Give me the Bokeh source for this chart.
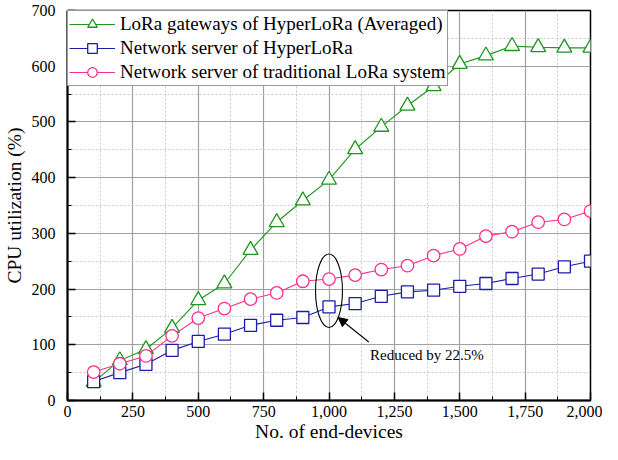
from bokeh.plotting import figure
from bokeh.models import Range1d, FixedTicker, NumeralTickFormatter, Arrow, NormalHead, Label
from bokeh.embed import file_html
from bokeh.resources import INLINE

devices = [100, 200, 300, 400, 500, 600, 700, 800, 900, 1000,
           1100, 1200, 1300, 1400, 1500, 1600, 1700, 1800, 1900, 2000]
gateways_hyperlora = [33, 72, 92, 130, 180, 210, 270, 320, 359, 396,
                      451, 491, 529, 564, 604, 619, 636, 634, 633, 633]
ns_hyperlora = [34, 50, 65, 90, 106, 119, 135, 144, 149, 168,
                174, 187, 195, 198, 205, 210, 219, 227, 240, 250]
ns_traditional = [51, 66, 80, 116, 148, 165, 182, 193, 214, 218,
                  225, 235, 242, 260, 272, 295, 303, 320, 325, 340]

x_ticks = [0, 250, 500, 750, 1000, 1250, 1500, 1750, 2000]
y_ticks = [0, 100, 200, 300, 400, 500, 600, 700]

FONT = "Liberation Serif"
GREEN = "#1e961e"
BLUE = "#1c1caa"
PINK = "#ff2e8c"

p = figure(width=602, height=444, output_backend="svg", toolbar_location=None,
           x_range=Range1d(0, 2000), y_range=Range1d(0, 700),
           min_border_left=59, min_border_right=12, min_border_top=10, min_border_bottom=0)

p.outline_line_color = "black"
p.outline_line_width = 1.5

for ax in (p.xaxis[0], p.yaxis[0]):
    ax.axis_line_color = "black"
    ax.axis_line_width = 2
    ax.major_tick_in = 8
    ax.major_tick_out = 0
    ax.minor_tick_in = 4
    ax.minor_tick_out = 0
    ax.major_tick_line_color = "black"
    ax.minor_tick_line_color = "black"
    ax.major_tick_line_width = 1.5
    ax.major_label_text_font = FONT
    ax.major_label_text_font_size = "16px"
    ax.major_label_text_color = "black"
    ax.axis_label_text_font = FONT
    ax.axis_label_text_font_size = "19.5px"
    ax.axis_label_text_font_style = "normal"
    ax.axis_label_text_color = "black"

p.xaxis.ticker = FixedTicker(ticks=x_ticks, minor_ticks=[125 + 250 * i for i in range(8)])
p.yaxis.ticker = FixedTicker(ticks=y_ticks, minor_ticks=[50 + 100 * i for i in range(7)])
p.xaxis.formatter = NumeralTickFormatter(format="0,0")
p.xaxis.axis_label = "No. of end-devices"
p.yaxis.axis_label = "CPU utilization (%)"
p.xaxis.major_label_standoff = 5
p.xaxis.axis_label_standoff = 1
p.yaxis.major_label_standoff = 12
p.yaxis.axis_label_standoff = 4

for g in (p.xgrid[0], p.ygrid[0]):
    g.grid_line_color = "#a0a0a0"
    g.grid_line_width = 1.2
    g.minor_grid_line_color = "#c8c8c8"
    g.minor_grid_line_dash = "2 2"
    g.minor_grid_line_width = 1

series = [
    (gateways_hyperlora, GREEN, "triangle", 15, "LoRa gateways of HyperLoRa (Averaged)"),
    (ns_hyperlora, BLUE, "square", 12, "Network server of HyperLoRa"),
    (ns_traditional, PINK, "circle", 12.5, "Network server of traditional LoRa system"),
]
for ys, col, mk, sz, lab in series:
    p.line(devices, ys, line_color=col, line_width=1.1, legend_label=lab)
    p.scatter(devices, ys, marker=mk, size=sz, line_color=col, line_width=1.3,
              fill_color="white", legend_label=lab)

# annotation
p.ellipse(x=[1000], y=[197], width=[103], height=[132], fill_color=None,
          line_color="black", line_width=1.1)
p.add_layout(Arrow(end=NormalHead(size=9, fill_color="black", line_color="black"),
                   x_start=1152, y_start=105, x_end=1035, y_end=149,
                   line_color="black", line_width=1.1))
p.add_layout(Label(x=1157, y=81, text="Reduced by 22.5%", text_font=FONT,
                   text_font_size="15px", text_baseline="middle", text_color="black"))

lg = p.legend[0]
lg.location = "top_left"
lg.margin = 0
lg.padding = 1
lg.spacing = 0
lg.label_height = 24
lg.glyph_height = 24
lg.glyph_width = 46
lg.label_standoff = 5
lg.label_text_font = FONT
lg.label_text_font_size = "19px"
lg.label_text_color = "black"
lg.border_line_color = "#333333"
lg.border_line_width = 1.2
lg.background_fill_alpha = 1

open("out.html", "w").write(file_html(p, INLINE))
